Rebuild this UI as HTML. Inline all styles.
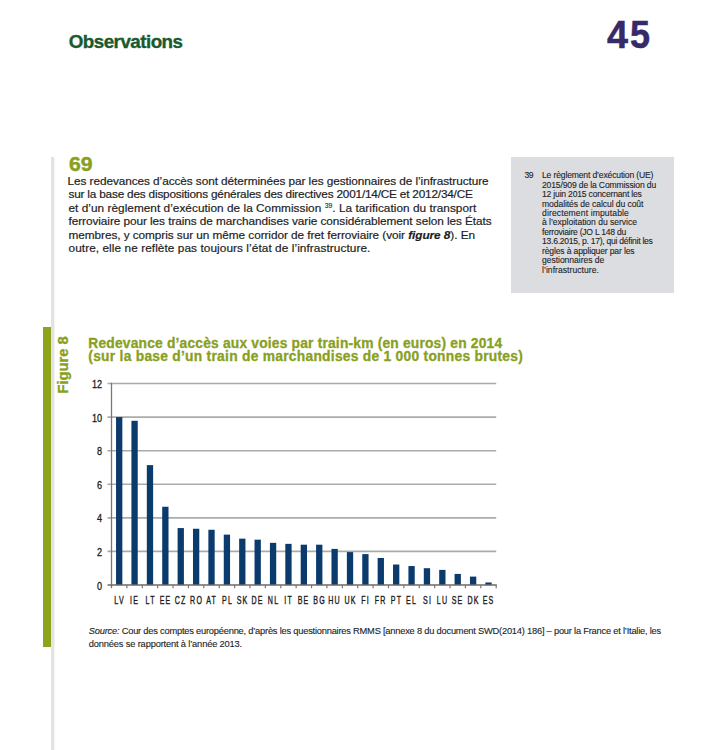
<!DOCTYPE html>
<html><head><meta charset="utf-8"><style>
html,body{margin:0;padding:0;background:#fff;}
body{width:726px;height:750px;position:relative;overflow:hidden;font-family:"Liberation Sans",sans-serif;color:#2b2a2a;}
.t{position:absolute;white-space:nowrap;line-height:20px;}
sup{font-size:6.8px;vertical-align:top;position:relative;top:-1.5px;-webkit-text-stroke:0.1px #222;}
#vline{position:absolute;left:51px;top:157px;width:3px;height:600px;background:#e3e3e4;box-shadow:1px 0 0 #f4f4f5;}
#gbar{position:absolute;left:42.5px;top:327px;width:8.5px;height:319.5px;background:#8ea21a;}
#fnbox{position:absolute;left:511px;top:157px;width:163px;height:136px;background:#dcdde0;}
#fig8{position:absolute;left:32.5px;top:354.9px;width:60px;text-align:center;font-size:14.7px;line-height:20px;font-weight:bold;color:#89a01e;-webkit-text-stroke:0.35px #89a01e;transform:rotate(-90deg);transform-origin:center;white-space:nowrap;}
.yl{position:absolute;left:71.6px;width:30px;text-align:right;font-size:10.7px;line-height:20px;transform:scaleX(0.85);transform-origin:100% 0;color:#1a1a1a;-webkit-text-stroke:0.3px #1a1a1a;}
.xl{position:absolute;width:40px;text-align:center;font-size:11.8px;line-height:20px;transform:scaleX(0.6);transform-origin:50% 0;letter-spacing:2px;text-indent:2px;color:#1a1a1a;-webkit-text-stroke:0.4px #1a1a1a;}
</style></head><body>
<div id="vline"></div>
<div id="gbar"></div>
<div id="fnbox"></div>
<div class="t" style="left:68.70px;top:32.29px;font-size:18.8px;font-weight:bold;color:#1a5a2e;-webkit-text-stroke:0.35px #1a5a2e;letter-spacing:-0.518px;">Observations</div><div class="t" style="left:607.00px;top:24.66px;font-size:38.5px;font-weight:bold;color:#372a68;-webkit-text-stroke:0.5px #372a68;letter-spacing:0.000px;transform:scaleX(0.9818);transform-origin:0 0;">4</div><div class="t" style="left:630.37px;top:24.66px;font-size:38.5px;font-weight:bold;color:#372a68;-webkit-text-stroke:0.5px #372a68;letter-spacing:0.000px;transform:scaleX(0.9350);transform-origin:0 0;">5</div><div class="t" style="left:68.90px;top:153.94px;font-size:19.5px;font-weight:bold;color:#89a01e;-webkit-text-stroke:0.4px #89a01e;letter-spacing:0.000px;transform:scaleX(1.0881);transform-origin:0 0;">69</div><div class="t" style="left:67.50px;top:170.91px;font-size:11.8px;color:#1e1e1e;-webkit-text-stroke:0.2px #1e1e1e;letter-spacing:-0.064px;">Les redevances d’accès sont déterminées par les gestionnaires de l’infrastructure</div><div class="t" style="left:68.50px;top:184.36px;font-size:11.8px;color:#1e1e1e;-webkit-text-stroke:0.2px #1e1e1e;letter-spacing:-0.199px;">sur la base des dispositions générales des directives 2001/14/CE et 2012/34/CE</div><div class="t" style="left:68.50px;top:197.81px;font-size:11.8px;color:#1e1e1e;-webkit-text-stroke:0.2px #1e1e1e;letter-spacing:0.036px;">et d’un règlement d’exécution de la Commission <sup>39</sup>. La tarification du transport</div><div class="t" style="left:68.50px;top:211.26px;font-size:11.8px;color:#1e1e1e;-webkit-text-stroke:0.2px #1e1e1e;letter-spacing:-0.062px;">ferroviaire pour les trains de marchandises varie considérablement selon les États</div><div class="t" style="left:68.50px;top:224.71px;font-size:11.8px;color:#1e1e1e;-webkit-text-stroke:0.2px #1e1e1e;letter-spacing:-0.058px;">membres, y compris sur un même corridor de fret ferroviaire (voir <b><i>figure 8</i></b>). En</div><div class="t" style="left:68.50px;top:238.16px;font-size:11.8px;color:#1e1e1e;-webkit-text-stroke:0.2px #1e1e1e;letter-spacing:0.077px;">outre, elle ne reflète pas toujours l’état de l’infrastructure.</div><div class="t" style="left:542.00px;top:165.32px;font-size:8.6px;color:#222;-webkit-text-stroke:0.1px #222;letter-spacing:-0.164px;">Le règlement d’exécution (UE)</div><div class="t" style="left:542.00px;top:174.75px;font-size:8.6px;color:#222;-webkit-text-stroke:0.1px #222;letter-spacing:-0.159px;">2015/909 de la Commission du</div><div class="t" style="left:542.00px;top:184.18px;font-size:8.6px;color:#222;-webkit-text-stroke:0.1px #222;letter-spacing:-0.200px;">12 juin 2015 concernant les</div><div class="t" style="left:542.00px;top:193.61px;font-size:8.6px;color:#222;-webkit-text-stroke:0.1px #222;letter-spacing:-0.085px;">modalités de calcul du coût</div><div class="t" style="left:542.00px;top:203.04px;font-size:8.6px;color:#222;-webkit-text-stroke:0.1px #222;letter-spacing:0.115px;">directement imputable</div><div class="t" style="left:542.00px;top:212.47px;font-size:8.6px;color:#222;-webkit-text-stroke:0.1px #222;letter-spacing:-0.038px;">à l’exploitation du service</div><div class="t" style="left:542.00px;top:221.90px;font-size:8.6px;color:#222;-webkit-text-stroke:0.1px #222;letter-spacing:-0.243px;">ferroviaire (JO L 148 du</div><div class="t" style="left:542.00px;top:231.33px;font-size:8.6px;color:#222;-webkit-text-stroke:0.1px #222;letter-spacing:-0.273px;">13.6.2015, p. 17), qui définit les</div><div class="t" style="left:542.00px;top:240.76px;font-size:8.6px;color:#222;-webkit-text-stroke:0.1px #222;letter-spacing:-0.156px;">règles à appliquer par les</div><div class="t" style="left:542.00px;top:250.19px;font-size:8.6px;color:#222;-webkit-text-stroke:0.1px #222;letter-spacing:-0.053px;">gestionnaires de</div><div class="t" style="left:542.00px;top:259.62px;font-size:8.6px;color:#222;-webkit-text-stroke:0.1px #222;letter-spacing:0.031px;">l’infrastructure.</div><div class="t" style="left:524.40px;top:165.12px;font-size:8.6px;color:#222;-webkit-text-stroke:0.1px #222;letter-spacing:-0.500px;">39</div><div class="t" style="left:88.30px;top:333.52px;font-size:13.8px;font-weight:bold;color:#89a01e;-webkit-text-stroke:0.3px #89a01e;letter-spacing:0.193px;">Redevance d’accès aux voies par train-km (en euros) en 2014</div><div class="t" style="left:88.30px;top:346.72px;font-size:13.8px;font-weight:bold;color:#89a01e;-webkit-text-stroke:0.3px #89a01e;letter-spacing:0.269px;">(sur la base d’un train de marchandises de 1 000 tonnes brutes)</div><div class="t" style="left:88.80px;top:620.58px;font-size:9.3px;color:#1e1e1e;-webkit-text-stroke:0.12px #1e1e1e;letter-spacing:-0.215px;"><i>Source:</i> Cour des comptes européenne, d’après les questionnaires RMMS [annexe 8 du document SWD(2014) 186] – pour la France et l’Italie, les</div><div class="t" style="left:88.80px;top:633.68px;font-size:9.3px;color:#1e1e1e;-webkit-text-stroke:0.12px #1e1e1e;letter-spacing:-0.161px;">données se rapportent à l’année 2013.</div>
<div id="fig8">Figure 8</div>
<svg style="position:absolute;left:0;top:0" width="726" height="750" viewBox="0 0 726 750">
<line x1="107.5" y1="551.42" x2="496.20" y2="551.42" stroke="#ababab" stroke-width="1.6"/><line x1="107.5" y1="517.84" x2="496.20" y2="517.84" stroke="#ababab" stroke-width="1.6"/><line x1="107.5" y1="484.26" x2="496.20" y2="484.26" stroke="#ababab" stroke-width="1.6"/><line x1="107.5" y1="450.68" x2="496.20" y2="450.68" stroke="#ababab" stroke-width="1.6"/><line x1="107.5" y1="417.10" x2="496.20" y2="417.10" stroke="#ababab" stroke-width="1.6"/><line x1="107.5" y1="383.52" x2="496.20" y2="383.52" stroke="#ababab" stroke-width="1.6"/><rect x="116.04" y="417.10" width="6.3" height="167.90" fill="#0b3a6c"/><rect x="131.43" y="420.79" width="6.3" height="164.21" fill="#0b3a6c"/><rect x="146.82" y="465.12" width="6.3" height="119.88" fill="#0b3a6c"/><rect x="162.21" y="506.76" width="6.3" height="78.24" fill="#0b3a6c"/><rect x="177.60" y="528.08" width="6.3" height="56.92" fill="#0b3a6c"/><rect x="192.98" y="528.75" width="6.3" height="56.25" fill="#0b3a6c"/><rect x="208.37" y="529.76" width="6.3" height="55.24" fill="#0b3a6c"/><rect x="223.76" y="534.63" width="6.3" height="50.37" fill="#0b3a6c"/><rect x="239.15" y="538.66" width="6.3" height="46.34" fill="#0b3a6c"/><rect x="254.54" y="539.67" width="6.3" height="45.33" fill="#0b3a6c"/><rect x="269.92" y="542.86" width="6.3" height="42.14" fill="#0b3a6c"/><rect x="285.31" y="543.86" width="6.3" height="41.14" fill="#0b3a6c"/><rect x="300.70" y="544.70" width="6.3" height="40.30" fill="#0b3a6c"/><rect x="316.09" y="544.70" width="6.3" height="40.30" fill="#0b3a6c"/><rect x="331.48" y="548.90" width="6.3" height="36.10" fill="#0b3a6c"/><rect x="346.86" y="552.09" width="6.3" height="32.91" fill="#0b3a6c"/><rect x="362.25" y="554.11" width="6.3" height="30.89" fill="#0b3a6c"/><rect x="377.64" y="557.97" width="6.3" height="27.03" fill="#0b3a6c"/><rect x="393.03" y="564.52" width="6.3" height="20.48" fill="#0b3a6c"/><rect x="408.42" y="566.03" width="6.3" height="18.97" fill="#0b3a6c"/><rect x="423.80" y="568.21" width="6.3" height="16.79" fill="#0b3a6c"/><rect x="439.19" y="569.89" width="6.3" height="15.11" fill="#0b3a6c"/><rect x="454.58" y="573.92" width="6.3" height="11.08" fill="#0b3a6c"/><rect x="469.97" y="576.61" width="6.3" height="8.39" fill="#0b3a6c"/><rect x="485.36" y="582.48" width="6.3" height="2.52" fill="#0b3a6c"/><line x1="111.50" y1="382.72" x2="111.50" y2="588.20" stroke="#777" stroke-width="1.3"/><line x1="107.5" y1="585.00" x2="496.80" y2="585.00" stroke="#6a6a6a" stroke-width="1.4"/><line x1="126.89" y1="585.00" x2="126.89" y2="588.20" stroke="#777" stroke-width="1.2"/><line x1="142.28" y1="585.00" x2="142.28" y2="588.20" stroke="#777" stroke-width="1.2"/><line x1="157.66" y1="585.00" x2="157.66" y2="588.20" stroke="#777" stroke-width="1.2"/><line x1="173.05" y1="585.00" x2="173.05" y2="588.20" stroke="#777" stroke-width="1.2"/><line x1="188.44" y1="585.00" x2="188.44" y2="588.20" stroke="#777" stroke-width="1.2"/><line x1="203.83" y1="585.00" x2="203.83" y2="588.20" stroke="#777" stroke-width="1.2"/><line x1="219.22" y1="585.00" x2="219.22" y2="588.20" stroke="#777" stroke-width="1.2"/><line x1="234.60" y1="585.00" x2="234.60" y2="588.20" stroke="#777" stroke-width="1.2"/><line x1="249.99" y1="585.00" x2="249.99" y2="588.20" stroke="#777" stroke-width="1.2"/><line x1="265.38" y1="585.00" x2="265.38" y2="588.20" stroke="#777" stroke-width="1.2"/><line x1="280.77" y1="585.00" x2="280.77" y2="588.20" stroke="#777" stroke-width="1.2"/><line x1="296.16" y1="585.00" x2="296.16" y2="588.20" stroke="#777" stroke-width="1.2"/><line x1="311.54" y1="585.00" x2="311.54" y2="588.20" stroke="#777" stroke-width="1.2"/><line x1="326.93" y1="585.00" x2="326.93" y2="588.20" stroke="#777" stroke-width="1.2"/><line x1="342.32" y1="585.00" x2="342.32" y2="588.20" stroke="#777" stroke-width="1.2"/><line x1="357.71" y1="585.00" x2="357.71" y2="588.20" stroke="#777" stroke-width="1.2"/><line x1="373.10" y1="585.00" x2="373.10" y2="588.20" stroke="#777" stroke-width="1.2"/><line x1="388.48" y1="585.00" x2="388.48" y2="588.20" stroke="#777" stroke-width="1.2"/><line x1="403.87" y1="585.00" x2="403.87" y2="588.20" stroke="#777" stroke-width="1.2"/><line x1="419.26" y1="585.00" x2="419.26" y2="588.20" stroke="#777" stroke-width="1.2"/><line x1="434.65" y1="585.00" x2="434.65" y2="588.20" stroke="#777" stroke-width="1.2"/><line x1="450.04" y1="585.00" x2="450.04" y2="588.20" stroke="#777" stroke-width="1.2"/><line x1="465.42" y1="585.00" x2="465.42" y2="588.20" stroke="#777" stroke-width="1.2"/><line x1="480.81" y1="585.00" x2="480.81" y2="588.20" stroke="#777" stroke-width="1.2"/><line x1="496.20" y1="585.00" x2="496.20" y2="588.20" stroke="#777" stroke-width="1.2"/>
</svg>
<div class="yl" style="top:575.59px">0</div><div class="yl" style="top:542.01px">2</div><div class="yl" style="top:508.43px">4</div><div class="yl" style="top:474.85px">6</div><div class="yl" style="top:441.27px">8</div><div class="yl" style="top:407.69px">10</div><div class="yl" style="top:374.11px">12</div>
<div class="xl" style="left:98.79px;top:589.81px">LV</div><div class="xl" style="left:114.18px;top:589.81px">IE</div><div class="xl" style="left:129.57px;top:589.81px">LT</div><div class="xl" style="left:144.96px;top:589.81px">EE</div><div class="xl" style="left:160.35px;top:589.81px">CZ</div><div class="xl" style="left:175.73px;top:589.81px">RO</div><div class="xl" style="left:191.12px;top:589.81px">AT</div><div class="xl" style="left:206.51px;top:589.81px">PL</div><div class="xl" style="left:221.90px;top:589.81px">SK</div><div class="xl" style="left:237.29px;top:589.81px">DE</div><div class="xl" style="left:252.67px;top:589.81px">NL</div><div class="xl" style="left:268.06px;top:589.81px">IT</div><div class="xl" style="left:283.45px;top:589.81px">BE</div><div class="xl" style="left:298.84px;top:589.81px">BG</div><div class="xl" style="left:314.23px;top:589.81px">HU</div><div class="xl" style="left:329.61px;top:589.81px">UK</div><div class="xl" style="left:345.00px;top:589.81px">FI</div><div class="xl" style="left:360.39px;top:589.81px">FR</div><div class="xl" style="left:375.78px;top:589.81px">PT</div><div class="xl" style="left:391.17px;top:589.81px">EL</div><div class="xl" style="left:406.55px;top:589.81px">SI</div><div class="xl" style="left:421.94px;top:589.81px">LU</div><div class="xl" style="left:437.33px;top:589.81px">SE</div><div class="xl" style="left:452.72px;top:589.81px">DK</div><div class="xl" style="left:468.11px;top:589.81px">ES</div>
</body></html>
